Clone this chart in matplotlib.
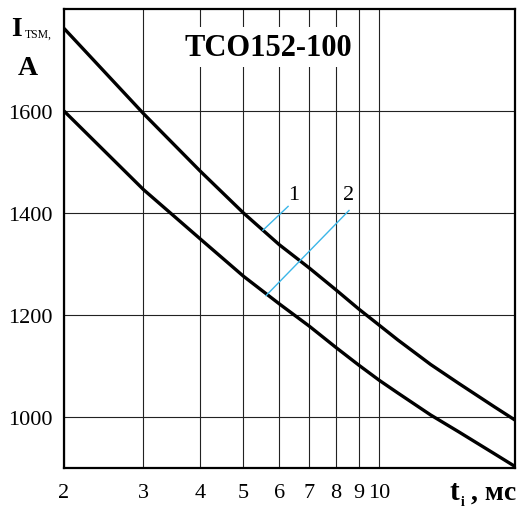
import matplotlib
matplotlib.use("Agg")
import matplotlib.pyplot as plt
from matplotlib.ticker import FixedLocator, NullLocator

# ---- data ----
t_ms = [2, 3, 4, 5, 6, 7, 8, 9, 10, 11, 13, 15, 18, 20]
curve1 = [1762, 1595, 1483, 1400, 1338, 1292, 1250, 1212, 1180, 1151, 1103, 1066, 1020, 994]
curve2 = [1600, 1446, 1350, 1276, 1222, 1178, 1137, 1102, 1072, 1047, 1004, 971, 928, 903]
x_ticks = [2, 3, 4, 5, 6, 7, 8, 9, 10]
x_tick_labels = ["2", "3", "4", "5", "6", "7", "8", "9", "10"]
y_ticks = [1000, 1200, 1400, 1600]
title = "TCO152-100"
# leader lines: (curve point) -> (label end), label text position
leader1 = ((5.52, 1366), (6.28, 1413))
leader2 = ((5.61, 1238), (8.57, 1405))
label1_pos = (6.45, 1418)
label2_pos = (8.55, 1418)

SERIF = "Liberation Serif"

fig = plt.figure(figsize=(5.23, 5.10), dpi=100)
ax = fig.add_axes([64 / 523, 1 - 469 / 510, (515 - 64) / 523, (469 - 10) / 510])

ax.set_xscale("log")
ax.set_xlim(2, 20)
ax.set_ylim(900, 1800)

ax.xaxis.set_major_locator(FixedLocator(x_ticks))
ax.xaxis.set_minor_locator(NullLocator())
ax.set_xticklabels(x_tick_labels)
ax.set_yticks(y_ticks)
ax.set_yticklabels([str(v) for v in y_ticks])

ax.grid(True, which="major", color="#222222", linewidth=0.8)
ax.set_axisbelow(True)
ax.tick_params(length=0, labelsize=16)
for lab in ax.get_xticklabels() + ax.get_yticklabels():
    lab.set_fontfamily(SERIF)
ax.tick_params(axis="y", pad=8)
ax.tick_params(axis="x", pad=11)

for s in ax.spines.values():
    s.set_linewidth(1.6)
    s.set_color("black")

ax.plot(t_ms, curve1, color="black", linewidth=2.4, solid_capstyle="butt",
        solid_joinstyle="round", zorder=3)
ax.plot(t_ms, curve2, color="black", linewidth=2.4, solid_capstyle="butt",
        solid_joinstyle="round", zorder=3)

lc = "#3bb6e8"
for (p0, p1) in (leader1, leader2):
    ax.plot([p0[0], p1[0]], [p0[1], p1[1]], color=lc, linewidth=1.0, zorder=4)
ax.text(*label1_pos, "1", fontfamily=SERIF, fontsize=16, ha="center", va="bottom", zorder=5)
ax.text(*label2_pos, "2", fontfamily=SERIF, fontsize=16, ha="center", va="bottom", zorder=5)

ax.text(0.452, 0.917, title, transform=ax.transAxes, fontfamily=SERIF, fontweight="bold",
        fontsize=22, ha="center", va="center", zorder=5,
        bbox=dict(facecolor="white", edgecolor="none", pad=4))

# y-axis label: I_TSM, / A
fig.text(11 / 523, 1 - 36 / 510, "I", fontfamily=SERIF, fontweight="bold", fontsize=20,
         ha="left", va="baseline")
fig.text(25 / 523, 1 - 38 / 510, "TSM,", fontfamily=SERIF, fontsize=8.5,
         ha="left", va="baseline")
fig.text(28 / 523, 1 - 75 / 510, "A", fontfamily=SERIF, fontweight="bold", fontsize=20,
         ha="center", va="baseline")

# x-axis label: t_i , мс
fig.text(450 / 523, 1 - 500 / 510, "t", fontfamily=SERIF, fontweight="bold", fontsize=21,
         ha="left", va="baseline")
fig.text(461 / 523, 1 - 506 / 510, "i", fontfamily=SERIF, fontweight="bold", fontsize=10,
         ha="left", va="baseline")
fig.text(471 / 523, 1 - 500 / 510, ", мс", fontfamily=SERIF, fontweight="bold", fontsize=20,
         ha="left", va="baseline")

fig.savefig("out.png", dpi=100)
